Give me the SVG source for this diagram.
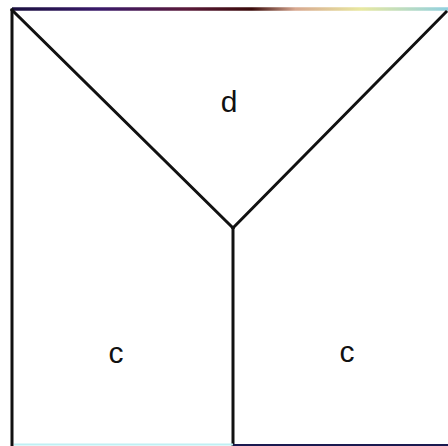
<svg xmlns="http://www.w3.org/2000/svg" width="448" height="446" viewBox="0 0 448 446">
  <defs>
    <linearGradient id="topGrad" gradientUnits="userSpaceOnUse" x1="12" y1="0" x2="448" y2="0">
      <stop offset="0" stop-color="#1a1040"/>
      <stop offset="0.2" stop-color="#3a1a6a"/>
      <stop offset="0.4" stop-color="#5a1a3a"/>
      <stop offset="0.55" stop-color="#3a0a0a"/>
      <stop offset="0.65" stop-color="#d8a890"/>
      <stop offset="0.8" stop-color="#e8e8a0"/>
      <stop offset="1" stop-color="#90d0e0"/>
    </linearGradient>
    <style>
      .edge { stroke: #111; stroke-width: 3; fill: none; stroke-linecap: square; }
      .lbl { font-family: "Liberation Sans", Arial, sans-serif; font-size: 30px; fill: #111; text-anchor: middle; }
    </style>
  </defs>
  <rect width="448" height="446" fill="#ffffff"/>
  <g id="connectors">
    <line x1="12" y1="9" x2="448" y2="9" stroke="url(#topGrad)" stroke-width="3.5"/>
    <line class="edge" x1="12" y1="10" x2="12" y2="446"/>
    <line class="edge" x1="12" y1="10" x2="233" y2="228"/>
    <line class="edge" x1="446" y1="12" x2="233" y2="228"/>
    <line class="edge" x1="233" y1="228" x2="233" y2="446" stroke="#333"/>
    <line x1="14" y1="444.5" x2="233" y2="444.5" stroke="#bff0f4" stroke-width="2"/>
    <line x1="233" y1="445" x2="448" y2="445" stroke="#1a1a50" stroke-width="2"/>
  </g>
  <g id="region-d">
    <text class="lbl" x="229" y="112">d</text>
  </g>
  <g id="region-c-left">
    <text class="lbl" x="116" y="363">c</text>
  </g>
  <g id="region-c-right">
    <text class="lbl" x="347" y="362">c</text>
  </g>
</svg>
